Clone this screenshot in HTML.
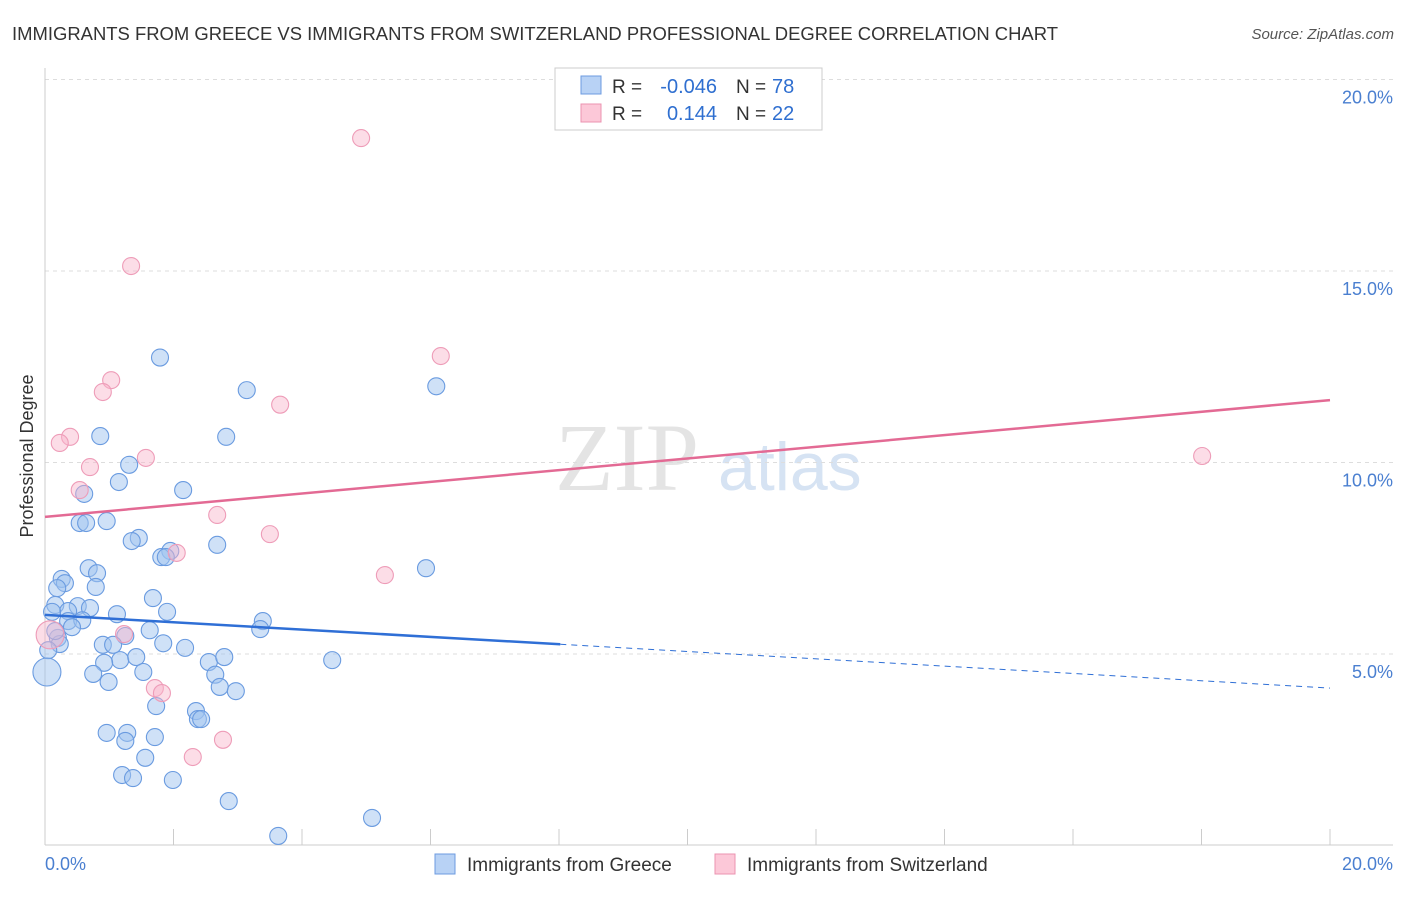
<!DOCTYPE html>
<html><head><meta charset="utf-8"><style>
body{margin:0;background:#fff;font-family:"Liberation Sans",sans-serif}
</style></head><body>
<svg width="1406" height="892" xmlns="http://www.w3.org/2000/svg" font-family="Liberation Sans, sans-serif">
<text x="12" y="40" font-size="18" fill="#333" textLength="1046" lengthAdjust="spacingAndGlyphs">IMMIGRANTS FROM GREECE VS IMMIGRANTS FROM SWITZERLAND PROFESSIONAL DEGREE CORRELATION CHART</text>
<text x="1394" y="39" font-size="15" fill="#555" font-style="italic" text-anchor="end">Source: ZipAtlas.com</text>
<text x="555" y="490" font-size="96" fill="#e4e4e4" font-family="Liberation Serif, serif">ZIP</text>
<text x="718" y="490" font-size="68" fill="#d6e3f3">atlas</text>
<g id="grid"></g>
<line x1="45" y1="68" x2="45" y2="845" stroke="#ccc"/>
<line x1="45" y1="845" x2="1393" y2="845" stroke="#ccc"/>
<text transform="translate(33,456) rotate(-90)" font-size="18" fill="#333" text-anchor="middle">Professional Degree</text>
<text x="45" y="870" font-size="18" fill="#4a7fd0">0.0%</text>
<text x="1393" y="870" font-size="18" fill="#4a7fd0" text-anchor="end">20.0%</text>
<g id="points"></g>
<g id="lines"></g>
<g>
<rect x="555" y="68" width="267" height="62" fill="#fff" stroke="#ccc"/>
<rect x="581" y="76" width="20" height="18" fill="#b8d2f5" stroke="#6d9be0"/>
<rect x="581" y="104" width="20" height="18" fill="#fcc8d8" stroke="#eb93b0"/>
<text x="612" y="93" font-size="19" fill="#333">R =</text>
<text x="717" y="93" font-size="20" fill="#2f6fd0" text-anchor="end">-0.046</text>
<text x="736" y="93" font-size="19" fill="#333">N =</text>
<text x="772" y="93" font-size="20" fill="#2f6fd0">78</text>
<text x="612" y="120" font-size="19" fill="#333">R =</text>
<text x="717" y="120" font-size="20" fill="#2f6fd0" text-anchor="end">0.144</text>
<text x="736" y="120" font-size="19" fill="#333">N =</text>
<text x="772" y="120" font-size="20" fill="#2f6fd0">22</text>
</g>
<g>
<rect x="435" y="854" width="20" height="20" fill="#b8d2f5" stroke="#6d9be0"/>
<text x="467" y="871" font-size="19" fill="#333">Immigrants from Greece</text>
<rect x="715" y="854" width="20" height="20" fill="#fcc8d8" stroke="#eb93b0"/>
<text x="747" y="871" font-size="19" fill="#333">Immigrants from Switzerland</text>
</g>
</svg>
<script>
const yTicks=[5,10,15,20];
const yTickLabels=["5.0%","10.0%","15.0%","20.0%"];
const xTickVals=[0,2,4,6,8,10,12,14,16,18,20];
const greeceX=[1.79,3.14,6.09,0.86,2.82,1.31,1.15,2.15,0.61,0.54,0.64,0.96,1.46,1.35,2.68,1.95,1.81,1.88,5.93,0.68,0.81,0.26,0.31,0.19,0.79,1.68,0.16,0.51,0.70,0.36,1.12,1.90,3.39,3.35,1.63,0.36,0.58,0.42,1.25,0.20,0.90,1.06,0.23,1.84,2.18,1.17,1.42,0.92,2.55,2.79,4.47,0.75,1.53,2.65,0.99,2.72,2.97,1.73,2.35,2.38,2.43,0.96,1.28,1.25,1.71,1.56,1.20,1.37,1.99,2.86,5.09,3.63,0.11,0.05,0.16];
const greeceY=[12.74,11.89,11.99,10.69,10.67,9.94,9.49,9.28,9.18,8.42,8.42,8.47,8.03,7.95,7.85,7.69,7.53,7.53,7.24,7.24,7.11,6.96,6.85,6.72,6.75,6.46,6.28,6.25,6.20,6.12,6.04,6.10,5.86,5.65,5.62,5.86,5.88,5.70,5.47,5.42,5.24,5.24,5.26,5.28,5.16,4.84,4.92,4.77,4.79,4.92,4.84,4.48,4.53,4.46,4.27,4.14,4.03,3.64,3.51,3.30,3.30,2.94,2.94,2.73,2.83,2.29,1.84,1.76,1.71,1.16,0.72,0.25,6.10,5.10,5.60];
const swissX=[4.92,1.34,1.03,0.90,6.16,3.66,0.39,0.23,1.57,0.70,0.54,2.68,3.50,2.05,5.29,18.01,1.23,1.71,1.82,2.77,2.30];
const swissY=[18.47,15.13,12.15,11.84,12.78,11.51,10.67,10.51,10.12,9.88,9.28,8.63,8.13,7.64,7.06,10.17,5.52,4.11,3.98,2.76,2.31];
const bigGreece=[[0.03,4.53]];
const bigSwiss=[[0.08,5.5]];
const greeceTrend=[6.02,4.11];
const swissTrend=[8.58,11.63];
const sx=v=>45+v*64.25, sy=v=>845.5-v*38.3;
const NS="http://www.w3.org/2000/svg";
function mk(t,a,p){const e=document.createElementNS(NS,t);for(const k in a)e.setAttribute(k,a[k]);p.appendChild(e);return e;}
const grid=document.getElementById('grid');
yTicks.forEach((v,i)=>{
 const l=mk('line',{x1:45,x2:1393,y1:sy(v),y2:sy(v),stroke:'#ddd','stroke-dasharray':'4,4'},grid);
 
 
 const t=mk('text',{x:1393,y:sy(v)+24,'font-size':18,fill:'#4a7fd0','text-anchor':'end'},grid);
 t.textContent=yTickLabels[i];
 
 
});
xTickVals.forEach(v=>{
 const l=mk('line',{x1:sx(v),x2:sx(v),y1:829,y2:845,stroke:'#ccc'},grid);
 
 
});
const pts=document.getElementById('points');
function dot(x,y,r,blue){
 const c=mk('circle',{cx:sx(x),cy:sy(y),r:r,fill:blue?'rgba(160,196,240,0.5)':'rgba(248,180,202,0.45)',stroke:blue?'#6a9be0':'#ee9cb8','stroke-width':1.1},pts);
 
 
}
greeceX.forEach((x,i)=>dot(x,greeceY[i],8.5,true));
bigGreece.forEach(p=>dot(p[0],p[1],14,true));
swissX.forEach((x,i)=>dot(x,swissY[i],8.5,false));
bigSwiss.forEach(p=>dot(p[0],p[1],14,false));
const lines=document.getElementById('lines');
const gAt=x=>greeceTrend[0]+(greeceTrend[1]-greeceTrend[0])*x/20;
let l=mk('line',{x1:sx(0),y1:sy(gAt(0)),x2:sx(8.02),y2:sy(gAt(8.02)),stroke:'#2f6fd6','stroke-width':2.5},lines);


l=mk('line',{x1:sx(8.02),y1:sy(gAt(8.02)),x2:sx(20),y2:sy(gAt(20)),stroke:'#2f6fd6','stroke-width':1,'stroke-dasharray':'6,5'},lines);


l=mk('line',{x1:sx(0),y1:sy(swissTrend[0]),x2:sx(20),y2:sy(swissTrend[1]),stroke:'#e36a94','stroke-width':2.5},lines);


</script>
</body></html>
